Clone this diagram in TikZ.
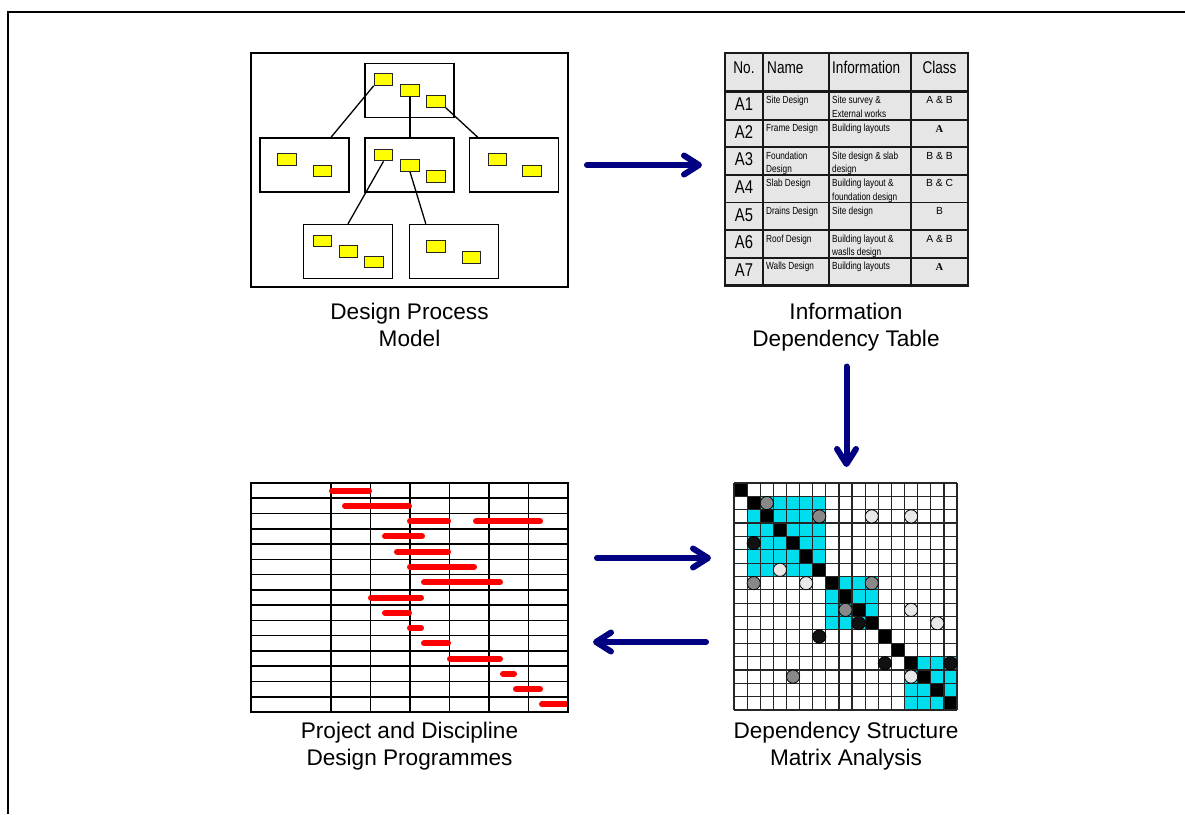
\documentclass[tikz,border=0pt]{standalone}
\usepackage{fontspec}
\setmainfont{Liberation Sans}
\newfontfamily\narrowfont[FakeStretch=0.8]{Liberation Sans}
\newfontfamily\serifA{Liberation Serif}
\usetikzlibrary{arrows.meta,calc}
\definecolor{navy}{RGB}{0,0,128}
\definecolor{tblgray}{RGB}{230,230,230}
\definecolor{dsmcyan}{RGB}{0,222,238}
\definecolor{cgray}{RGB}{136,136,136}
\definecolor{clight}{RGB}{232,232,232}
\definecolor{cblack}{RGB}{17,17,17}
\definecolor{ybox}{RGB}{255,255,0}
\definecolor{barred}{RGB}{255,0,0}
\tikzset{
  panel/.style={inner sep=0pt, outer sep=0pt},
  subbox/.style={draw=black, line width=1.4pt, fill=white, minimum width=89pt, minimum height=54pt, inner sep=0pt},
  ybx/.style={draw=black!85, line width=1.2pt, fill=ybox, minimum width=18.5pt, minimum height=11.5pt, inner sep=0pt},
  link/.style={black, line width=1.3pt},
  arr/.style={navy, line width=6pt, line cap=round, -{Straight Barb[length=15pt,width=19pt,round]}},
  lbl/.style={font={\fontsize{22.6}{27}\selectfont}, align=center, inner sep=0pt},
  hdr/.style={font={\narrowfont\fontsize{17}{20}\selectfont}, inner sep=0pt},
  num/.style={font={\narrowfont\fontsize{18.5}{20}\selectfont}, inner sep=0pt, anchor=base},
  small/.style={font={\narrowfont\fontsize{10.3}{13.3}\selectfont}, align=left, inner sep=0pt, anchor=north west},
  cls/.style={font={\fontsize{10.3}{13}\selectfont}, inner sep=0pt, anchor=base},
  bar/.style={barred, line width=6pt, line cap=round},
  grid/.style={black, line width=1.6pt},
}
\begin{document}
\begin{tikzpicture}[x=1pt,y=-1pt]
\useasboundingbox (0,0) rectangle (1185,814);
% outer frame
\draw[black, line width=1.6pt] (8,814) -- (8,12) -- (1185,12);

% ---------------- Design Process Model ----------------
\node (dpm) [panel, draw=black, line width=2.4pt, minimum width=317pt, minimum height=234pt] at (409.5,170) {};
\node (tm) [subbox] at (409.5,90.5) {};
\node (lm) [subbox] at (304.5,165) {};
\node (cm) [subbox] at (409.5,165) {};
\node (rm) [subbox] at (514,165) {};
\node (bl) [subbox] at (348,251.5) {};
\node (br) [subbox] at (454,251.5) {};
% yellow boxes
\node (t1) [ybx] at (383.5,79.5) {};
\node (t2) [ybx] at (410,90.5) {};
\node (t3) [ybx] at (436,101.5) {};
\node (l1) [ybx] at (287,159.5) {};
\node (l2) [ybx] at (322.5,171) {};
\node (c1) [ybx] at (383.5,155) {};
\node (c2) [ybx] at (410,165.5) {};
\node (c3) [ybx] at (436,176.5) {};
\node (r1) [ybx] at (497.5,159.5) {};
\node (r2) [ybx] at (532,171) {};
\node (d1) [ybx] at (322.5,241) {};
\node (d2) [ybx] at (348.5,251.5) {};
\node (d3) [ybx] at (374,262) {};
\node (e1) [ybx] at (436,246.5) {};
\node (e2) [ybx] at (471.5,257.5) {};
% links
\draw[link] (t1.south west) -- ([xshift=26.5pt]lm.north);
\draw[link] (t2.south) -- (t2.south |- cm.north);
\draw[link] (t3.south east) -- ([xshift=9pt]rm.north west);
\draw[link] (c1.south) -- (bl.north);
\draw[link] (c2.south) -- ([xshift=17pt]br.north west);

\node (lab1) [lbl, anchor=north] at (409.5,302.5) {Design Process\\Model};

% ---------------- Information Dependency Table ----------------
\node (tbl) [panel, fill=tblgray, minimum width=243pt, minimum height=232.5pt] at (846.5,169.25) {};
\foreach \x in {763,829,911} \draw[black!90, line width=1.8pt] (\x,53) -- (\x,285.5);
\foreach \i in {1,...,6} \draw[black!90, line width=1.8pt] (725,{92+\i*27.64}) -- (968,{92+\i*27.64});
\draw[black!90, line width=2.6pt] (725,91.5) -- (968,91.5);
\draw[black!90, line width=2.2pt] (tbl.north west) rectangle (tbl.south east);
% header
\node[hdr, anchor=base] at (744,73.6) {No.};
\node[hdr, anchor=base west] at (767,73.6) {Name};
\node[hdr, anchor=base west] at (832,73.6) {Information};
\node[hdr, anchor=base] at (939.5,73.6) {Class};
% rows
\foreach \r/\n in {0/A1,1/A2,2/A3,3/A4,4/A5,5/A6,6/A7}
  \node[num] at (744,{92+\r*27.64+18.5}) {\n};
\foreach \r/\t in {0/{Site Design},1/{Frame Design},2/{Foundation\\Design},3/{Slab Design},4/{Drains Design},5/{Roof Design},6/{Walls Design}}
  \node[small] at (766,{92+\r*27.64+4.3}) {\t};
\foreach \r/\t in {0/{Site survey \&\\External works},1/{Building layouts},2/{Site design \& slab\\design},3/{Building layout \&\\foundation design},4/{Site design},5/{Building layout \&\\waslls design},6/{Building layouts}}
  \node[small] at (832,{92+\r*27.64+4.3}) {\t};
\foreach \r/\t in {0/{A \& B},2/{B \& B},3/{B \& C},4/{B},5/{A \& B}}
  \node[cls] at (939.5,{92+\r*27.64+11.8}) {\t};
\foreach \r in {1,6}
  \node[cls, font={\serifA\bfseries\fontsize{10.5}{13}\selectfont}] at (939.5,{92+\r*27.64+13}) {A};

\node (lab2) [lbl, anchor=north] at (846,302.5) {Information\\Dependency Table};

% ---------------- Gantt chart ----------------
\node (gantt) [panel, minimum width=317pt, minimum height=229pt] at (409.5,597.5) {};
\foreach \i in {1,...,14} \draw[grid] (251,{483+\i*15.267}) -- (568,{483+\i*15.267});
\foreach \x in {331,370.5,410,449.5,489,528.5} \draw[grid] (\x,483) -- (\x,712);
\foreach \r/\a/\b in {0/332/369,1/345/409,2/410/448,2/476/540,3/385/422,4/397/448,5/410/474,6/424/500,7/371/421,8/385/409,9/410/421,10/424/448,11/450/500,12/503/514,13/516/540,14/542/566}
  \draw[bar] (\a,{483+(\r+0.5)*15.267}) -- (\b,{483+(\r+0.5)*15.267});
\draw[black, line width=2.2pt] (gantt.north west) rectangle (gantt.south east);

\node (lab3) [lbl, anchor=north] at (409.5,721.5) {Project and Discipline\\Design Programmes};

% ---------------- DSM ----------------
\node (dsm) [panel, minimum width=223pt, minimum height=227pt] at (845.5,596.5) {};
\def\cw{13.118}
\def\ch{13.353}
\foreach \a/\b in {1/7,7/11,13/17}
  \fill[dsmcyan] ({734+\a*\cw},{483+\a*\ch}) rectangle ({734+\b*\cw},{483+\b*\ch});
\foreach \k in {0,...,16}
  \fill[black] ({734+\k*\cw},{483+\k*\ch}) rectangle ({734+(\k+1)*\cw},{483+(\k+1)*\ch});
\foreach \k in {0,...,17} {
  \draw[black!85, line width=1.2pt] ({734+\k*\cw},483) -- ({734+\k*\cw},710);
  \draw[black!85, line width=1.2pt] (734,{483+\k*\ch}) -- (957,{483+\k*\ch});
}
\foreach \r/\c/\col in {1/2/cgray,2/6/cgray,2/10/clight,2/13/clight,4/1/cblack,6/3/clight,7/1/cgray,7/5/clight,7/10/cgray,9/8/cgray,9/13/clight,10/15/clight,10/9/cblack,11/6/cblack,13/11/cblack,13/16/cblack,14/4/cgray,14/13/clight}
  \filldraw[fill=\col, draw=black, line width=0.8pt] ({734+(\c+0.5)*\cw},{483+(\r+0.5)*\ch}) circle (6.6pt);

\node (lab4) [lbl, anchor=north] at (846,721.5) {Dependency Structure\\Matrix Analysis};

% ---------------- arrows ----------------
\draw[arr, shorten <=19pt, shorten >=23pt] ([yshift=5pt]dpm.east) -- ([yshift=4.25pt]tbl.west);
\draw[arr, shorten <=3pt, shorten >=16pt] ([yshift=-78pt]tbl.south) -- (tbl.south |- dsm.north);
\draw[arr, shorten <=29pt, shorten >=23pt] ([yshift=39.5pt]gantt.east) -- ([yshift=38.5pt]dsm.west);
\draw[arr, shorten <=28pt, shorten >=25pt] ([yshift=-45.5pt]dsm.west) -- ([yshift=-44.5pt]gantt.east);
\end{tikzpicture}
\end{document}
